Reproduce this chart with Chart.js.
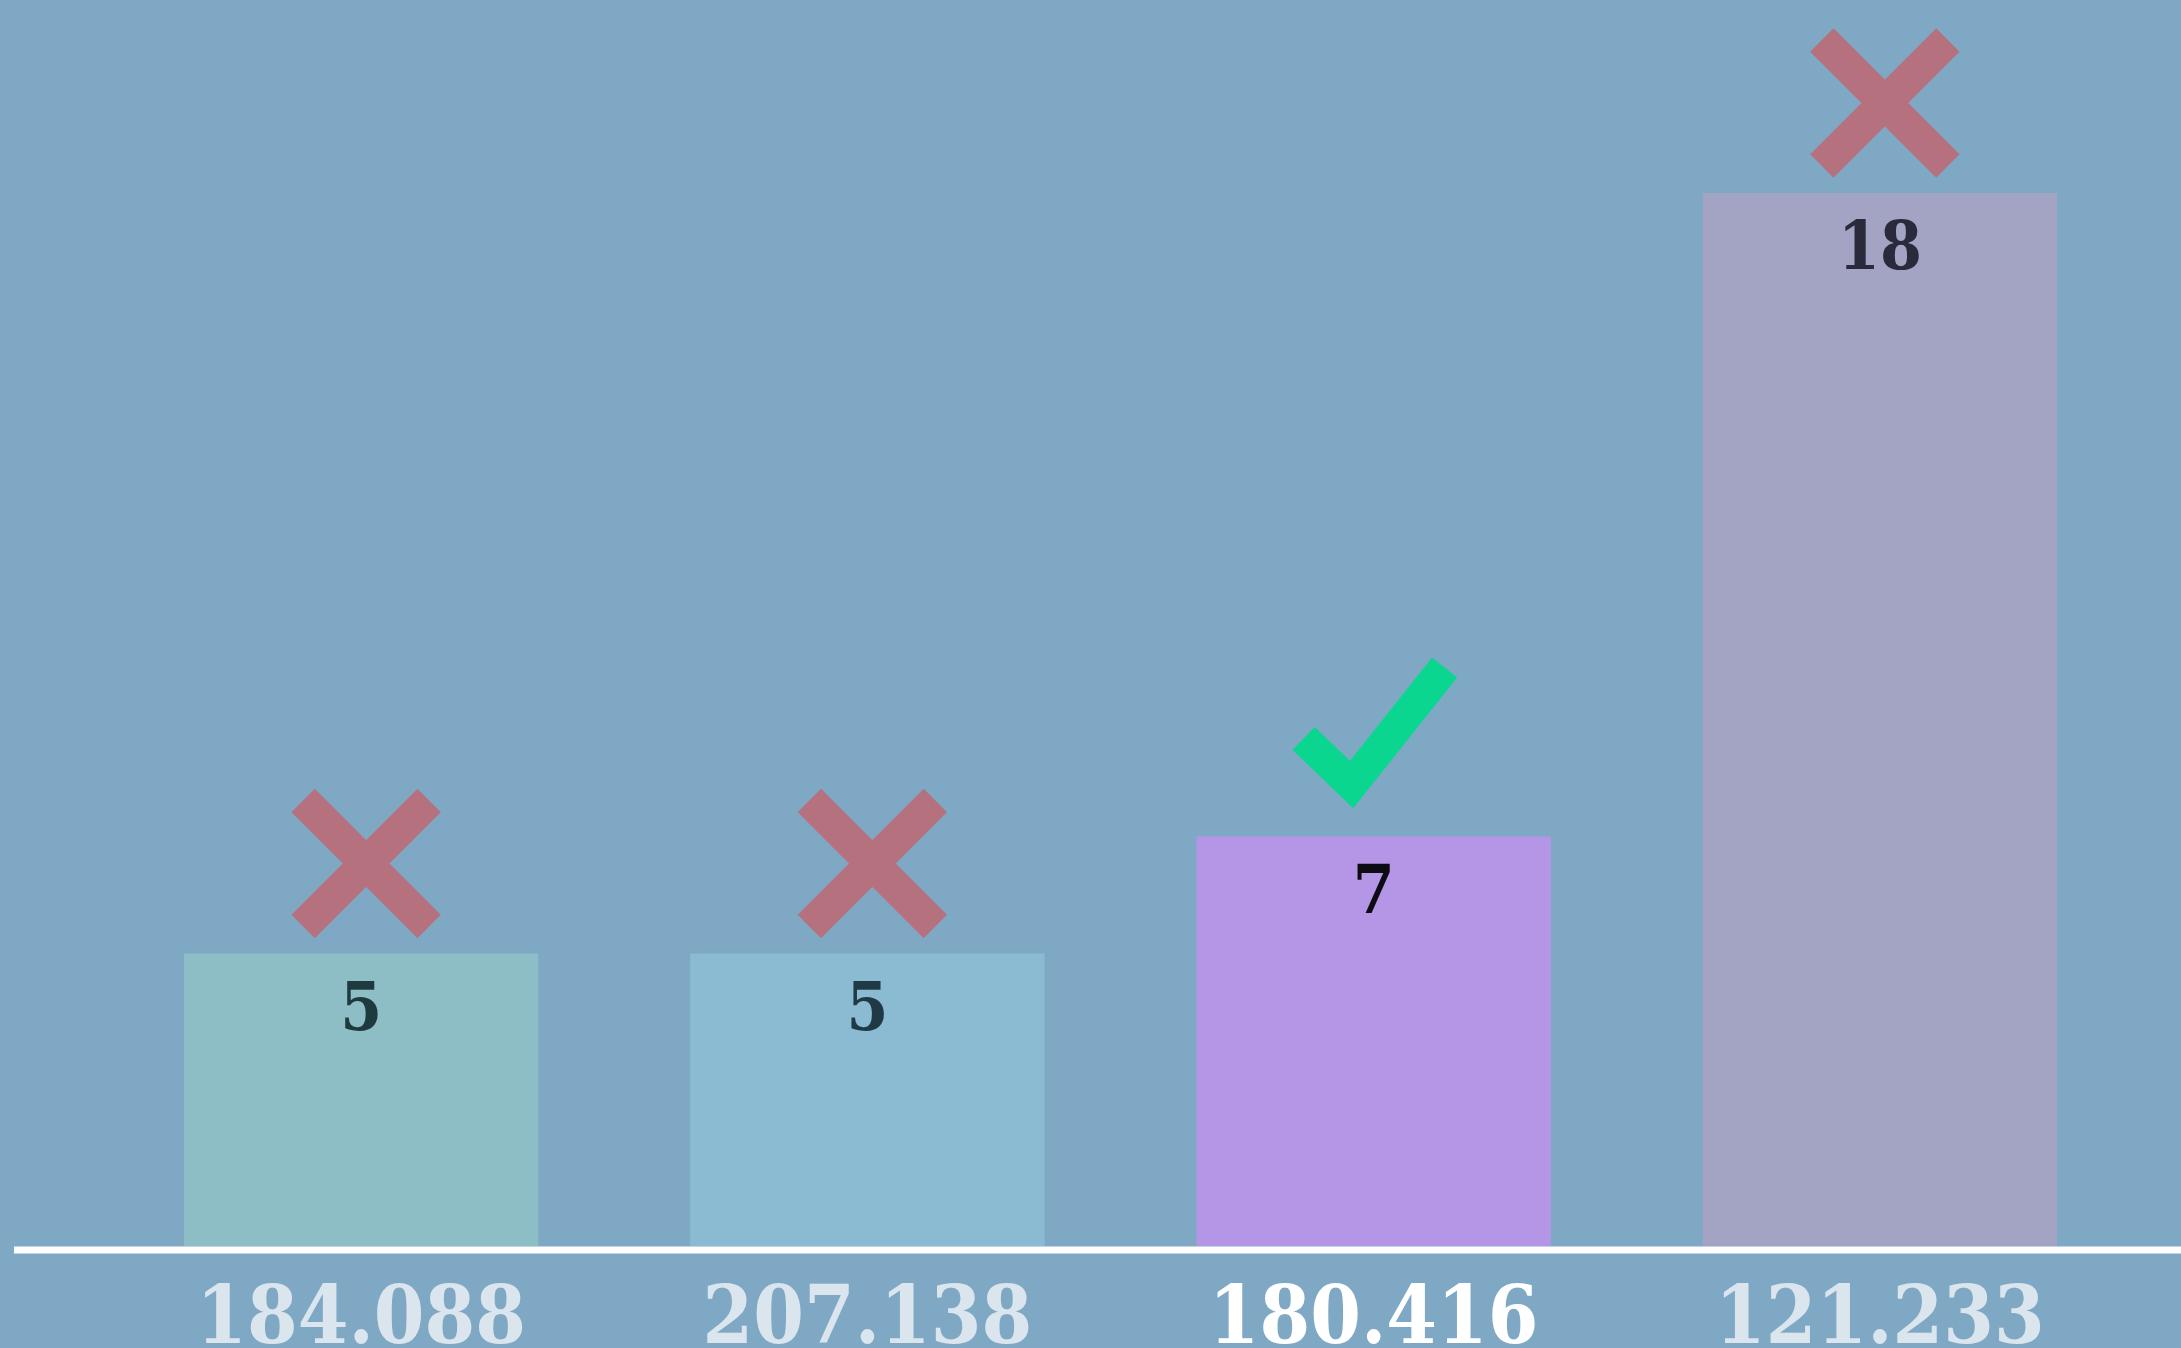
<!DOCTYPE html>
<html>
<head>
<meta charset="utf-8">
<script src="https://cdn.jsdelivr.net/npm/chart.js@4"></script>
<style>
  html, body { margin: 0; padding: 0; background: #7fa8c5; overflow: hidden; }
  #wrap { width: 2181px; height: 1348px; position: relative; }
</style>
</head>
<body>
<div id="wrap"><canvas id="myChart"></canvas></div>
<script>
// data
const categories = ['184.088', '207.138', '180.416', '121.233'];
const values = [5, 5, 7, 18];
const verdicts = ['wrong', 'wrong', 'right', 'wrong'];
const highlighted = [false, false, true, false];

const barColors = ['#8dbec6', '#8bbad3', '#b595e6', '#a3a4c3'];
const labelColors = ['#1f3a3f', '#1f3a44', '#0c0c12', '#2a2a3c'];
const slabFont = "'DejaVu Serif Condensed', 'DejaVu Serif', serif";

// white base line, runs wider than the plot area
const baseLine = {
    id: 'baseLine',
    afterDatasetsDraw(chart) {
        const ctx = chart.ctx;
        const y = chart.chartArea.bottom + 4;
        ctx.save();
        ctx.strokeStyle = '#ffffff';
        ctx.lineWidth = 7;
        ctx.beginPath();
        ctx.moveTo(14, y);
        ctx.lineTo(chart.width, y);
        ctx.stroke();
        ctx.restore();
    }
};

// value labels inside the bars + cross / tick marks above them
const barMarks = {
    id: 'barMarks',
    afterDatasetsDraw(chart) {
        const ctx = chart.ctx;
        const meta = chart.getDatasetMeta(0);
        meta.data.forEach((bar, i) => {
            ctx.save();
            ctx.font = 'bold 67px ' + slabFont;
            ctx.fillStyle = labelColors[i];
            ctx.textAlign = 'center';
            ctx.textBaseline = 'alphabetic';
            ctx.fillText(String(values[i]), bar.x, bar.y + 76);
            ctx.restore();

            ctx.save();
            ctx.lineCap = 'butt';
            ctx.lineJoin = 'miter';
            if (verdicts[i] == 'right') {
                ctx.strokeStyle = '#0bd68f';
                ctx.lineWidth = 32;
                ctx.beginPath();
                ctx.moveTo(bar.x - 70, bar.y - 98);
                ctx.lineTo(bar.x - 22, bar.y - 52);
                ctx.lineTo(bar.x + 71, bar.y - 169);
                ctx.stroke();
            } else {
                const cx = bar.x + 5, cy = bar.y - 90, d = 63;
                ctx.strokeStyle = '#b6717f';
                ctx.lineWidth = 33;
                ctx.beginPath();
                ctx.moveTo(cx - d, cy - d);
                ctx.lineTo(cx + d, cy + d);
                ctx.moveTo(cx + d, cy - d);
                ctx.lineTo(cx - d, cy + d);
                ctx.stroke();
            }
            ctx.restore();
        });
    }
};

const data = {
    labels: categories,
    datasets: [{
        data: values,
        backgroundColor: barColors,
        borderWidth: 0,
        categoryPercentage: 1,
        barPercentage: 0.70
    }]
};

const config = {
    type: 'bar',
    data,
    options: {
        responsive: true,
        maintainAspectRatio: false,
        animation: false,
        layout: { padding: { left: 108, right: 48, top: 0, bottom: 0 } },
        plugins: {
            legend: { display: false },
            tooltip: { enabled: false }
        },
        scales: {
            x: {
                grid: { display: false, drawTicks: false },
                border: { display: false },
                afterFit(scale) { scale.height = 102; },
                ticks: {
                    padding: 27,
                    color: (c) => highlighted[c.index] ? '#ffffff' : '#dbe5ee',
                    font: (c) => ({
                        family: slabFont,
                        size: 81,
                        lineHeight: 1.2,
                        weight: 'bold'
                    })
                }
            },
            y: {
                display: false,
                min: 0,
                max: 21.3
            }
        }
    },
    plugins: [baseLine, barMarks]
};

const myChart = new Chart(document.getElementById('myChart'), config);
</script>
</body>
</html>
